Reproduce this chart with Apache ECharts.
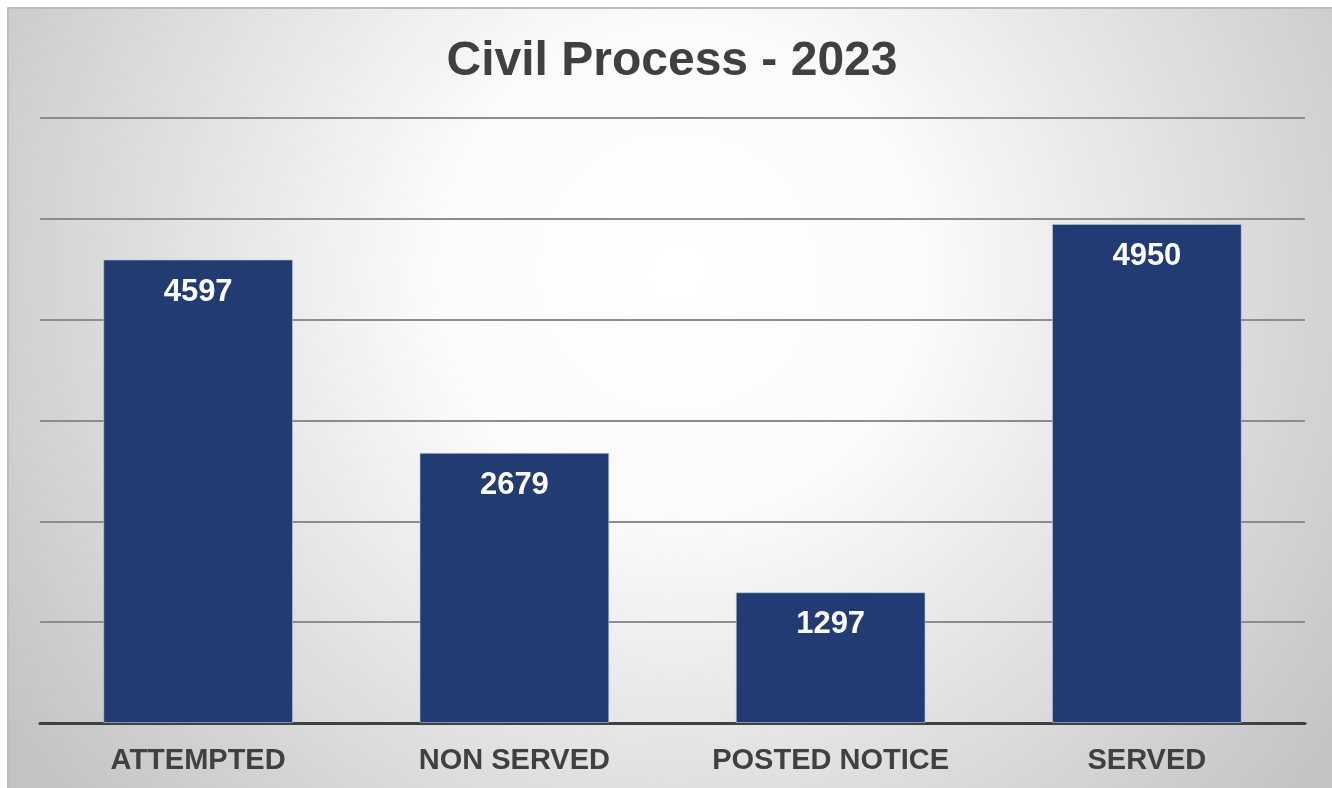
<!DOCTYPE html>
<html>
<head>
<meta charset="utf-8">
<style>
html,body{margin:0;padding:0;background:#ffffff;}
#chart{width:1332px;height:788px;}
</style>
<script src="https://cdn.jsdelivr.net/npm/echarts@6/dist/echarts.min.js"></script>
</head>
<body>
<div id="chart"></div>
<script>
const chartTitle = 'Civil Process - 2023';
const categories = ['ATTEMPTED', 'NON SERVED', 'POSTED NOTICE', 'SERVED'];
const values = [4597, 2679, 1297, 4950];
const yMin = 0, yMax = 6000, yInterval = 1000;

const chart = echarts.init(document.getElementById('chart'), null, {renderer: 'canvas'});
chart.setOption({
  backgroundColor: '#ffffff',
  animation: false,
  graphic: [{
    type: 'rect',
    z: -10,
    silent: true,
    shape: {x: 8, y: 8, width: 1340, height: 800},
    style: {
      fill: {
        type: 'radial', x: 0.5, y: 0.33, r: 1.0,
        colorStops: [
          {offset: 0, color: '#ffffff'},
          {offset: 0.3, color: '#fbfbfb'},
          {offset: 1, color: '#c4c4c4'}
        ]
      },
      stroke: '#bdbdbd',
      lineWidth: 2
    }
  }],
  title: {
    text: chartTitle,
    left: 667,
    textAlign: 'center',
    top: 33,
    textStyle: {
      fontFamily: 'Liberation Sans, Arial, sans-serif',
      fontWeight: 'bold',
      fontSize: 48,
      color: '#404040'
    }
  },
  grid: {left: 40, right: 27, top: 118, bottom: 65, containLabel: false},
  xAxis: {
    type: 'category',
    data: categories,
    axisLine: {lineStyle: {color: '#404040', width: 3}},
    axisTick: {show: false},
    axisLabel: {
      fontFamily: 'Liberation Sans, Arial, sans-serif',
      fontWeight: 'bold',
      fontSize: 29,
      color: '#404040',
      margin: 23
    }
  },
  yAxis: {
    type: 'value',
    min: yMin, max: yMax, interval: yInterval,
    axisLine: {show: false},
    axisTick: {show: false},
    axisLabel: {show: false},
    splitLine: {lineStyle: {color: '#8c8c8c', width: 2}}
  },
  series: [{
    type: 'bar',
    data: values,
    barCategoryGap: '40%',
    itemStyle: {color: '#223c73', borderColor: 'rgba(190,200,225,0.6)', borderWidth: 1},
    label: {
      show: true,
      position: 'insideTop',
      distance: 17,
      fontFamily: 'Liberation Sans, Arial, sans-serif',
      fontWeight: 'bold',
      fontSize: 31,
      color: '#ffffff'
    }
  }]
});
</script>
</body>
</html>
